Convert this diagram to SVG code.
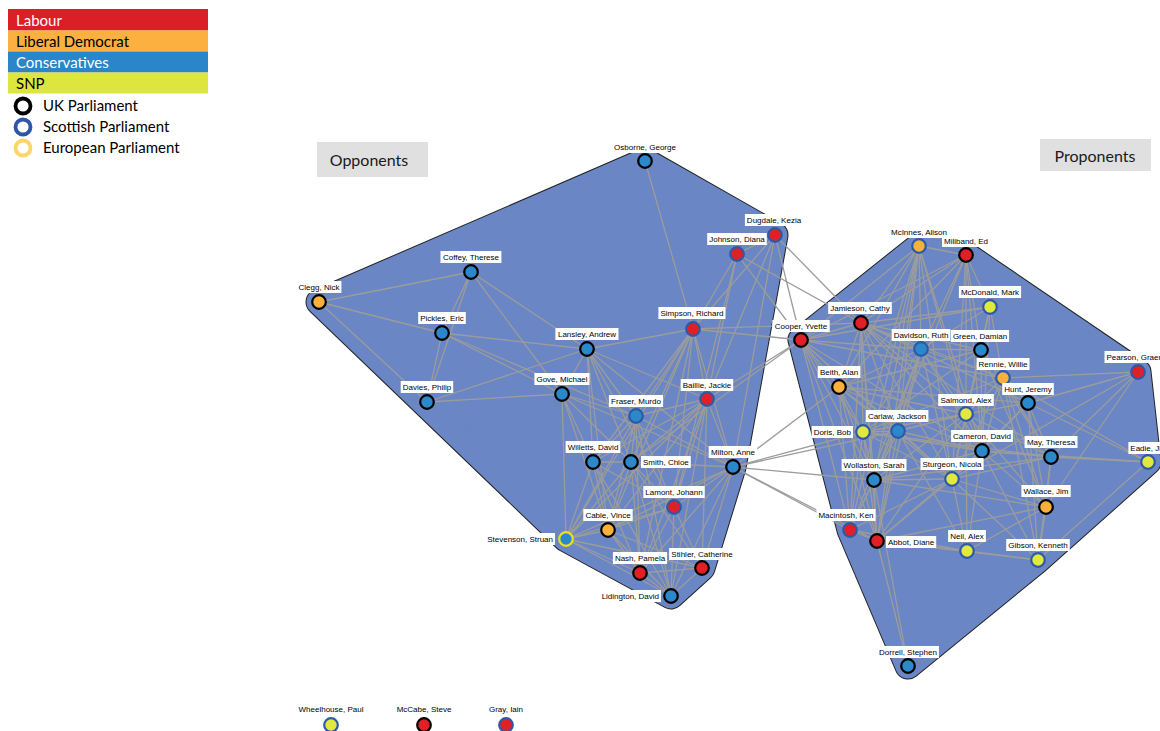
<svg xmlns="http://www.w3.org/2000/svg" width="1160" height="731" viewBox="0 0 1160 731">
<style>
.e path{stroke:#9c9c9c;stroke-width:1.3;fill:none}
circle.nd{stroke-width:2.2}
.lab{fill:#e11f26}.lib{fill:#fbb03b}.con{fill:#2b89cb}.snp{fill:#e3e83c}
.uk{stroke:#000}.sp{stroke:#2d5aa8}.eu{stroke:#ece21c}
rect.lb{fill:#fff}
text.t{font-family:"Liberation Sans",Arial,sans-serif;font-size:8px;fill:#000;text-anchor:middle}
text.s{text-anchor:start}
text.en{text-anchor:end}
.leg{font-family:Lato,"Open Sans",sans-serif;font-size:15px}
.hullout{fill:#6a86c4;stroke:#222;stroke-width:27;stroke-linejoin:round}
.hullin{fill:#6a86c4;stroke:#6a86c4;stroke-width:25;stroke-linejoin:round}
.box{fill:#e0e0e0}
.boxt{font-family:Lato,"Open Sans",sans-serif;font-size:16px;fill:#1a1a1a;text-anchor:middle}
</style>

<g id="legend">
<rect x="8" y="9" width="200" height="21.5" fill="#dc1e26"/>
<text class="leg" x="16" y="26" fill="#fff">Labour</text>
<rect x="8" y="30.5" width="200" height="21" fill="#fbb040"/>
<text class="leg" x="16" y="47" fill="#000">Liberal Democrat</text>
<rect x="8" y="51.5" width="200" height="21" fill="#2a86c8"/>
<text class="leg" x="16" y="68" fill="#fff">Conservatives</text>
<rect x="8" y="72.5" width="200" height="21" fill="#dde63f"/>
<text class="leg" x="16" y="89" fill="#000">SNP</text>
<circle cx="23" cy="106" r="7.5" fill="#fff" stroke="#000" stroke-width="3.8"/>
<text class="leg" x="43" y="111" fill="#000">UK Parliament</text>
<circle cx="23" cy="127" r="7.5" fill="#fff" stroke="#2d57a6" stroke-width="3.8"/>
<text class="leg" x="43" y="132" fill="#000">Scottish Parliament</text>
<circle cx="23" cy="148" r="7.5" fill="#fff" stroke="#fdd667" stroke-width="3.8"/>
<text class="leg" x="43" y="153" fill="#000">European Parliament</text>
</g>

<g id="opponents-title">
<rect class="box" x="317" y="142" width="111" height="35"/>
<text class="boxt" x="369" y="166">Opponents</text>
</g>
<g id="proponents-title">
<rect class="box" x="1040" y="139" width="111" height="32"/>
<text class="boxt" x="1095" y="162">Proponents</text>
</g>

<g id="hull-opponents">
<polygon class="hullout" points="645,161 775,235 733,467 702,568 671,596 566,539 319,302"/>
<polygon class="hullin" points="645,161 775,235 733,467 702,568 671,596 566,539 319,302"/>
</g>
<g id="hull-proponents">
<polygon class="hullout" points="919,246 966,255 1138,372 1148,462 1038,560 908,666 850,530 801,340"/>
<polygon class="hullin" points="919,246 966,255 1138,372 1148,462 1038,560 908,666 850,530 801,340"/>
</g>

<g id="connectors" class="e">
<path d="M319 302L471 272"/><path d="M319 302L442 333"/><path d="M319 302L427 402"/>
<path d="M471 272L442 333"/><path d="M471 272L427 402"/><path d="M471 272L587 349"/><path d="M471 272L562 394"/>
<path d="M442 333L427 402"/><path d="M442 333L587 349"/><path d="M442 333L562 394"/><path d="M442 333L636 416"/>
<path d="M427 402L562 394"/><path d="M427 402L587 349"/>
<path d="M645 161L693 329"/>
<path d="M737 254L775 235"/><path d="M737 254L693 329"/><path d="M737 254L707 399"/><path d="M737 254L674 507"/>
<path d="M775 235L693 329"/><path d="M775 235L707 399"/><path d="M775 235L733 467"/>
<path d="M587 349L693 329"/><path d="M587 349L562 394"/><path d="M587 349L636 416"/><path d="M587 349L733 467"/><path d="M587 349L631 462"/><path d="M587 349L593 462"/><path d="M587 349L674 507"/><path d="M587 349L608 530"/><path d="M587 349L707 399"/>
<path d="M562 394L636 416"/><path d="M562 394L733 467"/><path d="M562 394L593 462"/><path d="M562 394L608 530"/><path d="M562 394L566 539"/><path d="M562 394L631 462"/>
<path d="M693 329L707 399"/><path d="M693 329L636 416"/><path d="M693 329L631 462"/><path d="M693 329L593 462"/><path d="M693 329L733 467"/><path d="M693 329L674 507"/><path d="M693 329L608 530"/><path d="M693 329L566 539"/><path d="M693 329L640 573"/>
<path d="M707 399L636 416"/><path d="M707 399L733 467"/><path d="M707 399L674 507"/><path d="M707 399L631 462"/><path d="M707 399L593 462"/><path d="M707 399L608 530"/><path d="M707 399L566 539"/><path d="M707 399L640 573"/><path d="M707 399L702 568"/><path d="M707 399L671 596"/>
<path d="M636 416L631 462"/><path d="M636 416L593 462"/><path d="M636 416L733 467"/><path d="M636 416L674 507"/><path d="M636 416L608 530"/><path d="M636 416L640 573"/><path d="M636 416L671 596"/><path d="M636 416L566 539"/>
<path d="M733 467L631 462"/><path d="M733 467L674 507"/><path d="M733 467L608 530"/><path d="M733 467L566 539"/><path d="M733 467L640 573"/><path d="M733 467L702 568"/><path d="M733 467L671 596"/>
<path d="M593 462L631 462"/><path d="M593 462L608 530"/><path d="M593 462L566 539"/><path d="M593 462L640 573"/><path d="M593 462L671 596"/><path d="M593 462L674 507"/>
<path d="M631 462L674 507"/><path d="M631 462L640 573"/><path d="M631 462L702 568"/><path d="M631 462L671 596"/><path d="M631 462L608 530"/><path d="M631 462L566 539"/>
<path d="M674 507L608 530"/><path d="M674 507L566 539"/><path d="M674 507L640 573"/><path d="M674 507L702 568"/><path d="M674 507L671 596"/>
<path d="M608 530L566 539"/><path d="M608 530L640 573"/><path d="M608 530L671 596"/><path d="M608 530L702 568"/>
<path d="M566 539L640 573"/><path d="M566 539L671 596"/><path d="M566 539L702 568"/>
<path d="M640 573L671 596"/><path d="M640 573L702 568"/><path d="M702 568L671 596"/>
<path d="M775 235L861 323"/><path d="M775 235L801 340"/><path d="M737 254L861 323"/><path d="M737 254L801 340"/>
<path d="M693 329L801 340"/><path d="M693 329L861 323"/><path d="M707 399L801 340"/><path d="M631 462L801 340"/>
<path d="M733 467L839 387"/><path d="M733 467L863 432"/><path d="M733 467L898 431"/><path d="M733 467L874 480"/><path d="M733 467L850 530"/><path d="M733 467L877 541"/>
<path d="M919 246L966 255"/><path d="M919 246L861 323"/><path d="M919 246L801 340"/><path d="M919 246L921 349"/><path d="M919 246L839 387"/><path d="M919 246L863 432"/><path d="M919 246L898 431"/><path d="M919 246L952 479"/><path d="M919 246L874 480"/><path d="M919 246L850 530"/><path d="M919 246L877 541"/><path d="M919 246L966 414"/><path d="M919 246L982 451"/>
<path d="M966 255L861 323"/><path d="M966 255L801 340"/><path d="M966 255L921 349"/><path d="M966 255L981 350"/><path d="M966 255L966 414"/><path d="M966 255L952 479"/><path d="M966 255L982 451"/><path d="M966 255L874 480"/><path d="M966 255L839 387"/><path d="M966 255L990 307"/>
<path d="M990 307L861 323"/><path d="M990 307L981 350"/><path d="M990 307L1003 378"/><path d="M990 307L966 414"/><path d="M990 307L952 479"/><path d="M990 307L982 451"/><path d="M990 307L921 349"/><path d="M990 307L801 340"/>
<path d="M861 323L801 340"/><path d="M861 323L921 349"/><path d="M861 323L981 350"/><path d="M861 323L1003 378"/><path d="M861 323L839 387"/><path d="M861 323L863 432"/><path d="M861 323L898 431"/><path d="M861 323L966 414"/><path d="M861 323L952 479"/><path d="M861 323L982 451"/><path d="M861 323L874 480"/><path d="M861 323L850 530"/><path d="M861 323L877 541"/><path d="M861 323L1028 403"/><path d="M861 323L1051 457"/>
<path d="M801 340L921 349"/><path d="M801 340L839 387"/><path d="M801 340L863 432"/><path d="M801 340L898 431"/><path d="M801 340L874 480"/><path d="M801 340L850 530"/><path d="M801 340L877 541"/><path d="M801 340L952 479"/><path d="M801 340L982 451"/><path d="M801 340L1003 378"/>
<path d="M921 349L981 350"/><path d="M921 349L1003 378"/><path d="M921 349L839 387"/><path d="M921 349L863 432"/><path d="M921 349L898 431"/><path d="M921 349L966 414"/><path d="M921 349L952 479"/><path d="M921 349L982 451"/><path d="M921 349L874 480"/><path d="M921 349L877 541"/><path d="M921 349L850 530"/>
<path d="M981 350L1003 378"/><path d="M981 350L1028 403"/><path d="M981 350L966 414"/><path d="M981 350L952 479"/><path d="M981 350L982 451"/><path d="M981 350L1051 457"/><path d="M981 350L1046 507"/><path d="M981 350L839 387"/><path d="M981 350L863 432"/>
<path d="M1003 378L1028 403"/><path d="M1003 378L1138 372"/><path d="M1003 378L966 414"/><path d="M1003 378L982 451"/><path d="M1003 378L1051 457"/><path d="M1003 378L1046 507"/><path d="M1003 378L952 479"/><path d="M1003 378L1038 560"/><path d="M1003 378L1148 462"/><path d="M1003 378L863 432"/>
<path d="M839 387L863 432"/><path d="M839 387L898 431"/><path d="M839 387L966 414"/><path d="M839 387L952 479"/><path d="M839 387L982 451"/><path d="M839 387L874 480"/><path d="M839 387L850 530"/><path d="M839 387L877 541"/><path d="M839 387L1028 403"/>
<path d="M1028 403L966 414"/><path d="M1028 403L982 451"/><path d="M1028 403L1051 457"/><path d="M1028 403L1046 507"/><path d="M1028 403L1138 372"/><path d="M1028 403L1038 560"/><path d="M1028 403L1148 462"/><path d="M1028 403L952 479"/>
<path d="M966 414L898 431"/><path d="M966 414L863 432"/><path d="M966 414L982 451"/><path d="M966 414L1051 457"/><path d="M966 414L952 479"/><path d="M966 414L874 480"/><path d="M966 414L877 541"/><path d="M966 414L967 551"/><path d="M966 414L1046 507"/>
<path d="M898 431L863 432"/><path d="M898 431L982 451"/><path d="M898 431L952 479"/><path d="M898 431L874 480"/><path d="M898 431L850 530"/><path d="M898 431L877 541"/><path d="M898 431L967 551"/>
<path d="M863 432L982 451"/><path d="M863 432L952 479"/><path d="M863 432L874 480"/><path d="M863 432L850 530"/><path d="M863 432L877 541"/><path d="M863 432L1051 457"/>
<path d="M982 451L1051 457"/><path d="M982 451L952 479"/><path d="M982 451L874 480"/><path d="M982 451L1046 507"/><path d="M982 451L877 541"/><path d="M982 451L967 551"/><path d="M982 451L1038 560"/><path d="M982 451L1148 462"/>
<path d="M1051 457L1046 507"/><path d="M1051 457L952 479"/><path d="M1051 457L1038 560"/><path d="M1051 457L1148 462"/><path d="M1051 457L1138 372"/><path d="M1051 457L874 480"/>
<path d="M874 480L952 479"/><path d="M874 480L850 530"/><path d="M874 480L877 541"/><path d="M874 480L908 666"/><path d="M874 480L1046 507"/>
<path d="M952 479L1046 507"/><path d="M952 479L967 551"/><path d="M952 479L1038 560"/><path d="M952 479L850 530"/><path d="M952 479L877 541"/><path d="M952 479L1138 372"/>
<path d="M1046 507L967 551"/><path d="M1046 507L1038 560"/><path d="M1046 507L877 541"/>
<path d="M850 530L877 541"/><path d="M850 530L967 551"/>
<path d="M877 541L967 551"/><path d="M877 541L908 666"/><path d="M877 541L1038 560"/>
<path d="M967 551L1038 560"/><path d="M1138 372L1046 507"/><path d="M1148 462L1038 560"/>
</g>

<g id="osborne"><circle class="nd con uk" cx="645" cy="161" r="6.8"/><rect class="lb" x="612.1" y="141" width="65.8" height="12"/><text class="t" x="645" y="150">Osborne, George</text></g>
<g id="dugdale"><circle class="nd lab sp" cx="775" cy="235" r="6.8"/><rect class="lb" x="744.9" y="214" width="58.2" height="12"/><text class="t" x="774" y="223">Dugdale, Kezia</text></g>
<g id="johnson"><circle class="nd lab sp" cx="737" cy="254" r="6.8"/><rect class="lb" x="707.2" y="233" width="59.6" height="12"/><text class="t" x="737" y="242">Johnson, Diana</text></g>
<g id="coffey"><circle class="nd con uk" cx="471" cy="272" r="6.8"/><rect class="lb" x="440.5" y="251" width="60.9" height="12"/><text class="t" x="471" y="260">Coffey, Therese</text></g>
<g id="clegg"><circle class="nd lib uk" cx="319" cy="302" r="6.8"/><rect class="lb" x="296.5" y="281" width="44.9" height="12"/><text class="t" x="319" y="290">Clegg, Nick</text></g>
<g id="simpson"><circle class="nd lab sp" cx="693" cy="329" r="6.8"/><rect class="lb" x="658.4" y="307" width="67.1" height="12"/><text class="t" x="692" y="316">Simpson, Richard</text></g>
<g id="pickles"><circle class="nd con uk" cx="442" cy="333" r="6.8"/><rect class="lb" x="418.2" y="312" width="47.6" height="12"/><text class="t" x="442" y="321">Pickles, Eric</text></g>
<g id="lansley"><circle class="nd con uk" cx="587" cy="349" r="6.8"/><rect class="lb" x="555.4" y="328" width="63.1" height="12"/><text class="t" x="587" y="337">Lansley, Andrew</text></g>
<g id="gove"><circle class="nd con uk" cx="562" cy="394" r="6.8"/><rect class="lb" x="534.4" y="373" width="55.1" height="12"/><text class="t" x="562" y="382">Gove, Michael</text></g>
<g id="davies"><circle class="nd con uk" cx="427" cy="402" r="6.8"/><rect class="lb" x="400.7" y="381" width="52.5" height="12"/><text class="t" x="427" y="390">Davies, Philip</text></g>
<g id="baillie"><circle class="nd lab sp" cx="707" cy="399" r="6.8"/><rect class="lb" x="680.7" y="379" width="52.5" height="12"/><text class="t" x="707" y="388">Baillie, Jackie</text></g>
<g id="fraser"><circle class="nd con sp" cx="636" cy="416" r="6.8"/><rect class="lb" x="608.9" y="395" width="54.2" height="12"/><text class="t" x="636" y="404">Fraser, Murdo</text></g>
<g id="willetts"><circle class="nd con uk" cx="593" cy="462" r="6.8"/><rect class="lb" x="565.6" y="441" width="54.7" height="12"/><text class="t" x="593" y="450">Willetts, David</text></g>
<g id="smith"><circle class="nd con uk" cx="631" cy="462" r="6.8"/><rect class="lb" x="641" y="456" width="49.8" height="12"/><text class="t s" x="643" y="465">Smith, Chloe</text></g>
<g id="milton"><circle class="nd con uk" cx="733" cy="467" r="6.8"/><rect class="lb" x="708.7" y="446" width="48.5" height="12"/><text class="t" x="733" y="455">Milton, Anne</text></g>
<g id="lamont"><circle class="nd lab sp" cx="674" cy="507" r="6.8"/><rect class="lb" x="643.3" y="486" width="61.4" height="12"/><text class="t" x="674" y="495">Lamont, Johann</text></g>
<g id="cable"><circle class="nd lib uk" cx="608" cy="530" r="6.8"/><rect class="lb" x="583.3" y="509" width="49.4" height="12"/><text class="t" x="608" y="518">Cable, Vince</text></g>
<g id="stevenson"><circle class="nd con eu" cx="566" cy="539" r="6.8"/><rect class="lb" x="485.2" y="533" width="69.8" height="12"/><text class="t en" x="553" y="542">Stevenson, Struan</text></g>
<g id="nash"><circle class="nd lab uk" cx="640" cy="573" r="6.8"/><rect class="lb" x="612.9" y="552" width="54.2" height="12"/><text class="t" x="640" y="561">Nash, Pamela</text></g>
<g id="stihler"><circle class="nd lab uk" cx="702" cy="568" r="6.8"/><rect class="lb" x="669.1" y="548" width="65.8" height="12"/><text class="t" x="702" y="557">Stihler, Catherine</text></g>
<g id="lidington"><circle class="nd con uk" cx="671" cy="596" r="6.8"/><rect class="lb" x="599.6" y="590" width="61.4" height="12"/><text class="t en" x="659" y="599">Lidington, David</text></g>

<g id="mcinnes"><circle class="nd lib sp" cx="919" cy="246" r="6.8"/><rect class="lb" x="888.8" y="226" width="60.5" height="12"/><text class="t" x="919" y="235">McInnes, Alison</text></g>
<g id="miliband"><circle class="nd lab uk" cx="966" cy="255" r="6.8"/><rect class="lb" x="942" y="235" width="48" height="12"/><text class="t" x="966" y="244">Miliband, Ed</text></g>
<g id="mcdonald"><circle class="nd snp sp" cx="990" cy="307" r="6.8"/><rect class="lb" x="958.9" y="286" width="62.2" height="12"/><text class="t" x="990" y="295">McDonald, Mark</text></g>
<g id="jamieson"><circle class="nd lab uk" cx="861" cy="323" r="6.8"/><rect class="lb" x="828.2" y="302" width="63.6" height="12"/><text class="t" x="860" y="311">Jamieson, Cathy</text></g>
<g id="cooper"><circle class="nd lab uk" cx="801" cy="340" r="6.8"/><rect class="lb" x="772.3" y="320" width="57.4" height="12"/><text class="t" x="801" y="329">Cooper, Yvette</text></g>
<g id="davidson"><circle class="nd con sp" cx="921" cy="349" r="6.8"/><rect class="lb" x="891.7" y="329" width="58.7" height="12"/><text class="t" x="921" y="338">Davidson, Ruth</text></g>
<g id="green"><circle class="nd con uk" cx="981" cy="350" r="6.8"/><rect class="lb" x="950.9" y="330" width="58.2" height="12"/><text class="t" x="980" y="339">Green, Damian</text></g>
<g id="rennie"><circle class="nd lib sp" cx="1003" cy="378" r="6.8"/><rect class="lb" x="976.6" y="358" width="52.9" height="12"/><text class="t" x="1003" y="367">Rennie, Willie</text></g>
<g id="beith"><circle class="nd lib uk" cx="839" cy="387" r="6.8"/><rect class="lb" x="817.7" y="366" width="42.7" height="12"/><text class="t" x="839" y="375">Beith, Alan</text></g>
<g id="hunt"><circle class="nd con uk" cx="1028" cy="403" r="6.8"/><rect class="lb" x="1002.2" y="383" width="51.6" height="12"/><text class="t" x="1028" y="392">Hunt, Jeremy</text></g>
<g id="salmond"><circle class="nd snp sp" cx="966" cy="414" r="6.8"/><rect class="lb" x="938.2" y="394" width="55.6" height="12"/><text class="t" x="966" y="403">Salmond, Alex</text></g>
<g id="carlaw"><circle class="nd con sp" cx="898" cy="431" r="6.8"/><rect class="lb" x="865.7" y="410" width="62.7" height="12"/><text class="t" x="897" y="419">Carlaw, Jackson</text></g>
<g id="doris"><circle class="nd snp sp" cx="863" cy="432" r="6.8"/><rect class="lb" x="811.7" y="426" width="41.3" height="12"/><text class="t en" x="851" y="435">Doris, Bob</text></g>
<g id="cameron"><circle class="nd con uk" cx="982" cy="451" r="6.8"/><rect class="lb" x="951.1" y="430" width="61.8" height="12"/><text class="t" x="982" y="439">Cameron, David</text></g>
<g id="may"><circle class="nd con uk" cx="1051" cy="457" r="6.8"/><rect class="lb" x="1024.6" y="436" width="52.9" height="12"/><text class="t" x="1051" y="445">May, Theresa</text></g>
<g id="wollaston"><circle class="nd con uk" cx="874" cy="480" r="6.8"/><rect class="lb" x="841.6" y="459" width="64.9" height="12"/><text class="t" x="874" y="468">Wollaston, Sarah</text></g>
<g id="sturgeon"><circle class="nd snp sp" cx="952" cy="479" r="6.8"/><rect class="lb" x="920.5" y="458" width="63.1" height="12"/><text class="t" x="952" y="467">Sturgeon, Nicola</text></g>
<g id="wallace"><circle class="nd lib uk" cx="1046" cy="507" r="6.8"/><rect class="lb" x="1021.4" y="485" width="49.3" height="12"/><text class="t" x="1046" y="494">Wallace, Jim</text></g>
<g id="macintosh"><circle class="nd lab sp" cx="850" cy="530" r="6.8"/><rect class="lb" x="816.5" y="509" width="59.1" height="12"/><text class="t" x="846" y="518">Macintosh, Ken</text></g>
<g id="abbot"><circle class="nd lab uk" cx="877" cy="541" r="6.8"/><rect class="lb" x="886" y="536" width="50.2" height="12"/><text class="t s" x="888" y="545">Abbot, Diane</text></g>
<g id="neil"><circle class="nd snp sp" cx="967" cy="551" r="6.8"/><rect class="lb" x="948.1" y="530" width="37.8" height="12"/><text class="t" x="967" y="539">Neil, Alex</text></g>
<g id="gibson"><circle class="nd snp sp" cx="1038" cy="560" r="6.8"/><rect class="lb" x="1006.2" y="539" width="63.6" height="12"/><text class="t" x="1038" y="548">Gibson, Kenneth</text></g>
<g id="pearson"><circle class="nd lab sp" cx="1138" cy="372" r="6.8"/><rect class="lb" x="1104.5" y="351" width="67.1" height="12"/><text class="t" x="1138" y="360">Pearson, Graeme</text></g>
<g id="eadie"><circle class="nd snp sp" cx="1148" cy="462" r="6.8"/><rect class="lb" x="1128.4" y="442" width="41.3" height="12"/><text class="t" x="1149" y="451">Eadie, Jim</text></g>
<g id="dorrell"><circle class="nd con uk" cx="908" cy="666" r="6.8"/><rect class="lb" x="877.1" y="646" width="61.8" height="12"/><text class="t" x="908" y="655">Dorrell, Stephen</text></g>

<g id="wheelhouse"><circle class="nd snp sp" cx="331" cy="725" r="6.8"/><text class="t" x="331" y="712">Wheelhouse, Paul</text></g>
<g id="mccabe"><circle class="nd lab uk" cx="424" cy="725" r="6.8"/><text class="t" x="424" y="712">McCabe, Steve</text></g>
<g id="gray"><circle class="nd lab sp" cx="506" cy="725" r="6.8"/><text class="t" x="506" y="712">Gray, Iain</text></g>
</svg>
